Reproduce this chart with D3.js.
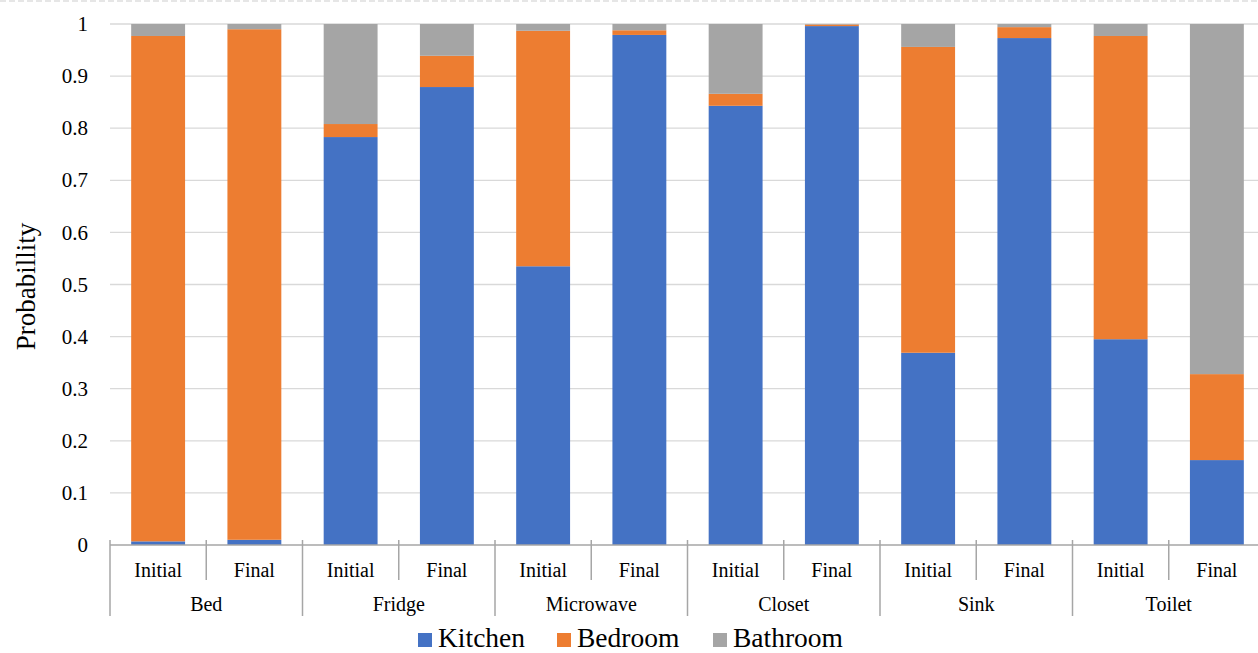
<!DOCTYPE html>
<html>
<head>
<meta charset="utf-8">
<script src="https://cdn.jsdelivr.net/npm/d3@7"></script>
<style>
  html, body { margin: 0; padding: 0; background: #fff; }
  svg { display: block; }
</style>
</head>
<body>
<svg id="chart" width="1258" height="653" style="font-family: 'Liberation Serif'"></svg>
<script>
// Objects and the two stages recorded for each
const objects = ["Bed", "Fridge", "Microwave", "Closet", "Sink", "Toilet"];
const stages = ["Initial", "Final"];

// Room probabilities, ordered object by object, Initial then Final
const kitchen  = [0.007, 0.010, 0.783, 0.879, 0.535, 0.979, 0.843, 0.996, 0.369, 0.973, 0.395, 0.163];
const bedroom  = [0.970, 0.980, 0.025, 0.060, 0.452, 0.009, 0.023, 0.003, 0.587, 0.021, 0.582, 0.165];
const bathroom = [0.023, 0.010, 0.192, 0.061, 0.013, 0.012, 0.134, 0.001, 0.044, 0.006, 0.023, 0.672];

const seriesNames = ["Kitchen", "Bedroom", "Bathroom"];
const seriesColors = ["#4472c4", "#ed7d31", "#a5a5a5"];
const yTicks = [0, 0.1, 0.2, 0.3, 0.4, 0.5, 0.6, 0.7, 0.8, 0.9, 1];

const FONT = "'Liberation Serif'";
const svg = d3.select("#chart");
const W = 1258, H = 653;
const mLeft = 110, mRight = 1265, mTop = 24, mBottom = 545;

// one row per bar
const rows = [];
objects.forEach((o, i) => stages.forEach((s, j) => {
  const k = i * stages.length + j;
  rows.push({ key: o + "|" + s, object: o, stage: s,
    Kitchen: kitchen[k], Bedroom: bedroom[k], Bathroom: bathroom[k] });
}));

const x = d3.scaleBand().domain(rows.map(r => r.key)).range([mLeft, mRight]).paddingInner(0.44).paddingOuter(0.22);
const xo = d3.scaleBand().domain(objects).range([mLeft, mRight]);
const y = d3.scaleLinear().domain([0, 1]).range([mBottom, mTop]);

// faint dashed frame line along the top
svg.append("line").attr("x1", 0).attr("x2", W).attr("y1", 1).attr("y2", 1)
  .attr("stroke", "#e6e6e6").attr("stroke-width", 2).attr("stroke-dasharray", "6,3");

// horizontal gridlines
svg.append("g").selectAll("line").data(yTicks.filter(t => t > 0)).join("line")
  .attr("x1", mLeft).attr("x2", W)
  .attr("y1", d => y(d)).attr("y2", d => y(d))
  .attr("stroke", "#d9d9d9").attr("stroke-width", 1.3);

// y axis tick labels
svg.append("g").selectAll("text").data(yTicks).join("text")
  .attr("x", 88).attr("y", d => y(d)).attr("dy", "0.34em")
  .attr("text-anchor", "end").attr("font-size", 21)
  .style("font-family", FONT)
  .text(d => d3.format("~g")(d));

// y axis title
svg.append("text")
  .attr("transform", `translate(35,${(mTop + mBottom) / 2 + 2}) rotate(-90)`)
  .attr("text-anchor", "middle").attr("font-size", 27)
  .style("font-family", FONT)
  .text("Probabillity");

// stacked bars
const stack = d3.stack().keys(seriesNames)(rows);
svg.append("g").selectAll("g").data(stack).join("g")
  .attr("fill", (d, i) => seriesColors[i])
  .selectAll("rect").data(d => d).join("rect")
  .attr("x", d => x(d.data.key))
  .attr("width", x.bandwidth())
  .attr("y", d => y(d[1]))
  .attr("height", d => y(d[0]) - y(d[1]));

// category axis: baseline, separators and two label tiers
const axisColor = "#a6a6a6";
svg.append("line").attr("x1", mLeft).attr("x2", W).attr("y1", mBottom).attr("y2", mBottom)
  .attr("stroke", axisColor).attr("stroke-width", 1.5);

// short separators between Initial and Final
svg.append("g").selectAll("line").data(objects).join("line")
  .attr("x1", d => xo(d) + xo.bandwidth() / 2).attr("x2", d => xo(d) + xo.bandwidth() / 2)
  .attr("y1", mBottom - 5).attr("y2", 580)
  .attr("stroke", axisColor).attr("stroke-width", 1.5);
// long separators between objects
const bounds = objects.map(o => xo(o)).concat([xo(objects[objects.length - 1]) + xo.bandwidth()]);
svg.append("g").selectAll("line").data(bounds).join("line")
  .attr("x1", d => d).attr("x2", d => d)
  .attr("y1", mBottom - 5).attr("y2", 616)
  .attr("stroke", axisColor).attr("stroke-width", 1.5);

svg.append("g").selectAll("text").data(rows).join("text")
  .attr("x", d => x(d.key) + x.bandwidth() / 2).attr("y", 577)
  .attr("text-anchor", "middle").attr("font-size", 20)
  .style("font-family", FONT)
  .text(d => d.stage);

svg.append("g").selectAll("text").data(objects).join("text")
  .attr("x", d => xo(d) + xo.bandwidth() / 2).attr("y", 611)
  .attr("text-anchor", "middle").attr("font-size", 20)
  .style("font-family", FONT)
  .text(d => d);

// legend
const legendX = [418, 557, 713];
const lg = svg.append("g").selectAll("g").data(seriesNames).join("g")
  .attr("transform", (d, i) => `translate(${legendX[i]},633)`);
lg.append("rect").attr("width", 14).attr("height", 14).attr("fill", (d, i) => seriesColors[i]);
lg.append("text").attr("x", 20).attr("y", 14).attr("font-size", 27.5)
  .style("font-family", FONT)
  .text(d => d);
</script>
</body>
</html>
